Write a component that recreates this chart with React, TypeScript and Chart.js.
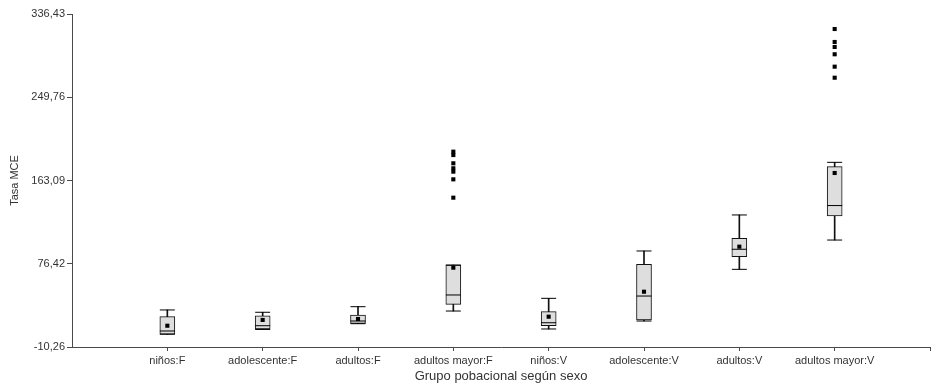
import React, { useEffect, useRef } from "react";
import { Chart, registerables } from "chart.js";

Chart.register(...registerables);

const categories = [
  "niños:F",
  "adolescente:F",
  "adultos:F",
  "adultos mayor:F",
  "niños:V",
  "adolescente:V",
  "adultos:V",
  "adultos mayor:V",
];

const whiskerLow = [3.0, 8.0, 14.0, 27.2, 8.5, 16.8, 70.6, 101.1];
const q1 = [3.0, 8.5, 14.4, 34.2, 11.9, 17.9, 83.8, 126.1];
const medians = [6.4, 11.9, 16.8, 43.9, 15.0, 42.8, 91.5, 137.0];
const q3 = [21.3, 22.3, 23.1, 75.1, 26.5, 75.8, 102.9, 177.5];
const whiskerHigh = [28.3, 25.9, 31.7, 75.1, 40.4, 89.7, 127.2, 182.0];
const means = [11.9, 17.9, 18.9, 72.3, 21.3, 47.3, 94.2, 170.9];

const outliersAdultosMayorF = [193.1, 189.6, 181.0, 175.8, 172.3, 164.3, 145.2];
const outliersAdultosMayorV = [320.8, 307.3, 302.1, 294.5, 281.6, 270.1];

const yTicks = [-10.26, 76.42, 163.09, 249.76, 336.43];

const TEXT = "#333";
const AXIS = "#4a4a4a";

export default function App() {
  const ref = useRef<HTMLCanvasElement | null>(null);

  useEffect(() => {
    if (!ref.current) return;
    Chart.defaults.font.family = "'Liberation Sans', Arial, sans-serif";
    Chart.defaults.color = TEXT;

    const pos = categories.map((_, i) => i + 1);

    const outlierData = [
      ...outliersAdultosMayorF.map((v) => ({ x: 4, y: v })),
      ...outliersAdultosMayorV.map((v) => ({ x: 8, y: v })),
    ];

    const chart = new Chart(ref.current, {
      type: "bar",
      data: {
        datasets: [
          {
            type: "scatter",
            label: "outliers",
            data: outlierData,
            pointStyle: "rect",
            pointRadius: 2.9,
            pointBackgroundColor: "#000",
            pointBorderWidth: 0,
            order: 0,
          } as any,
          {
            type: "scatter",
            label: "mean",
            data: pos.map((x, i) => ({ x, y: means[i] })),
            pointStyle: "rect",
            pointRadius: 2.9,
            pointBackgroundColor: "#000",
            pointBorderWidth: 0,
            order: 1,
          } as any,
          {
            type: "scatter",
            label: "median",
            data: pos.map((x, i) => ({ x, y: medians[i] })),
            pointStyle: "line",
            pointRadius: 7.5,
            pointBorderColor: "#000",
            pointBorderWidth: 1,
            order: 2,
          } as any,
          {
            type: "scatter",
            label: "caps",
            data: [
              ...pos.map((x, i) => ({ x, y: whiskerHigh[i] })),
              ...pos.map((x, i) => ({ x, y: whiskerLow[i] })),
            ],
            pointStyle: "line",
            pointRadius: 7.5,
            pointBorderColor: "#000",
            pointBorderWidth: 1,
            order: 3,
          } as any,
          {
            type: "bar",
            label: "box",
            data: pos.map((x, i) => ({ x, y: [q1[i], q3[i]] })),
            backgroundColor: "#dedede",
            borderColor: "#111",
            borderWidth: 1,
            borderSkipped: false,
            barThickness: 15,
            grouped: false,
            order: 4,
          } as any,
          {
            type: "bar",
            label: "whisker",
            data: pos.map((x, i) => ({ x, y: [whiskerLow[i], whiskerHigh[i]] })),
            backgroundColor: "#111",
            borderWidth: 0,
            barThickness: 1,
            grouped: false,
            order: 5,
          } as any,
        ],
      },
      options: {
        animation: false,
        responsive: false,
        layout: { autoPadding: false, padding: { top: 14, right: 1, left: 0, bottom: 0 } },
        plugins: {
          legend: { display: false },
          tooltip: { enabled: false },
        },
        scales: {
          x: {
            type: "linear",
            min: 0,
            max: 9,
            offset: false,
            afterBuildTicks: (scale: any) => {
              scale.ticks = [1, 2, 3, 4, 5, 6, 7, 8, 9].map((v) => ({ value: v }));
            },
            afterFit: (scale: any) => {
              scale.height = 40;
              scale.paddingLeft = 0;
              scale.paddingRight = 0;
            },
            ticks: {
              autoSkip: false,
              maxRotation: 0,
              minRotation: 0,
              padding: 3,
              color: TEXT,
              font: { size: 11 },
              callback: (v: any) => categories[Number(v) - 1] ?? "",
            },
            grid: {
              display: true,
              drawOnChartArea: false,
              drawTicks: true,
              tickLength: 4,
              color: AXIS,
              offset: false,
            },
            border: { display: true, color: AXIS, width: 1 },
            title: {
              display: true,
              text: "Grupo pobacional según sexo",
              color: TEXT,
              font: { size: 13 },
              padding: { top: 0, bottom: 3 },
            },
          },
          y: {
            type: "linear",
            min: -10.26,
            max: 336.43,
            afterBuildTicks: (scale: any) => {
              scale.ticks = yTicks.map((v) => ({ value: v }));
            },
            afterFit: (scale: any) => {
              scale.width = 72;
              scale.paddingTop = 0;
              scale.paddingBottom = 0;
            },
            ticks: {
              padding: 2,
              color: TEXT,
              font: { size: 11 },
              callback: (v: any) => Number(v).toFixed(2).replace(".", ","),
            },
            grid: {
              display: true,
              drawOnChartArea: false,
              drawTicks: true,
              tickLength: 5,
              color: AXIS,
            },
            border: { display: true, color: AXIS, width: 1 },
            title: {
              display: true,
              text: "Tasa MCE",
              color: TEXT,
              font: { size: 11 },
              padding: { top: 8, bottom: 0 },
            },
          },
        },
      } as any,
    });

    return () => chart.destroy();
  }, []);

  return (
    <canvas
      ref={ref}
      width={931}
      height={387}
      style={{ position: "fixed", left: 0, top: 0, width: 931, height: 387, display: "block", background: "#fff" }}
    />
  );
}
